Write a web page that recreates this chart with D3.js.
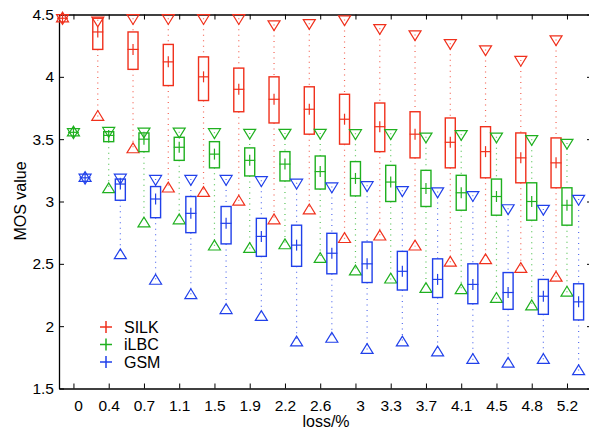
<!doctype html>
<html>
<head>
<style>
  body { margin: 0; background: #fff; }
  text { font-family: "Liberation Sans", Arial, sans-serif; }
</style>
<script src="https://d3js.org/d3.v7.min.js"></script>
</head>
<body>
<svg width="589" height="430"></svg>
<script>
// loss levels (x categories) and y ticks
var lossLabels = ["0", "0.4", "0.7", "1.1", "1.5", "1.9", "2.2", "2.6", "3", "3.3", "3.7", "4.1", "4.5", "4.8", "5.2"];
var yTicks = [1.5, 2, 2.5, 3, 3.5, 4, 4.5];

// SILK
var silkMean = [4.47, 4.36, 4.22, 4.12, 4.00, 3.90, 3.82, 3.74, 3.66, 3.60, 3.54, 3.475, 3.40, 3.35, 3.31];
var silkLo   = [4.47, 4.22, 4.06, 3.93, 3.81, 3.72, 3.63, 3.54, 3.46, 3.40, 3.35, 3.27, 3.19, 3.15, 3.11];
var silkHi   = [4.47, 4.47, 4.36, 4.26, 4.16, 4.07, 4.00, 3.92, 3.86, 3.79, 3.72, 3.67, 3.60, 3.55, 3.51];
var silkMax  = [4.47, 4.45, 4.47, 4.47, 4.47, 4.47, 4.42, 4.43, 4.46, 4.39, 4.34, 4.27, 4.22, 4.135, 4.30];
var silkMin  = [4.47, 3.68, 3.42, 3.105, 3.07, 3.00, 2.85, 2.93, 2.70, 2.72, 2.64, 2.51, 2.53, 2.46, 2.39];

// iLBC
var ilbcMean = [3.555, 3.53, 3.50, 3.435, 3.38, 3.33, 3.30, 3.24, 3.185, 3.156, 3.105, 3.07, 3.04, 3.00, 2.97];
var ilbcLo   = [3.555, 3.48, 3.40, 3.33, 3.27, 3.205, 3.165, 3.10, 3.045, 3.00, 2.96, 2.93, 2.89, 2.85, 2.81];
var ilbcHi   = [3.555, 3.56, 3.55, 3.515, 3.48, 3.43, 3.40, 3.365, 3.32, 3.29, 3.25, 3.21, 3.18, 3.15, 3.11];
var ilbcMax  = [3.555, 3.565, 3.56, 3.56, 3.555, 3.55, 3.55, 3.55, 3.547, 3.547, 3.52, 3.54, 3.52, 3.50, 3.47];
var ilbcMin  = [3.555, 3.10, 2.825, 2.85, 2.64, 2.62, 2.65, 2.54, 2.44, 2.375, 2.30, 2.29, 2.22, 2.16, 2.27];

// GSM
var gsmMean = [3.19, 3.14, 3.02, 2.905, 2.825, 2.72, 2.65, 2.585, 2.50, 2.44, 2.375, 2.335, 2.27, 2.24, 2.195];
var gsmLo   = [3.19, 3.01, 2.87, 2.75, 2.66, 2.56, 2.48, 2.42, 2.35, 2.29, 2.23, 2.18, 2.135, 2.095, 2.05];
var gsmHi   = [3.19, 3.18, 3.12, 3.04, 2.96, 2.865, 2.81, 2.745, 2.675, 2.60, 2.54, 2.50, 2.43, 2.375, 2.34];
var gsmMax  = [3.19, 3.19, 3.18, 3.18, 3.18, 3.17, 3.15, 3.12, 3.13, 3.09, 3.08, 3.05, 2.945, 2.94, 3.02];
var gsmMin  = [3.19, 2.57, 2.365, 2.25, 2.13, 2.075, 1.87, 1.90, 1.81, 1.87, 1.79, 1.73, 1.70, 1.73, 1.64];

var series = [
  {name: "SILK", color: "#f0301c", off: -0.31, mean: silkMean, lo: silkLo, hi: silkHi, max: silkMax, min: silkMin},
  {name: "iLBC", color: "#1fb01f", off: 0,     mean: ilbcMean, lo: ilbcLo, hi: ilbcHi, max: ilbcMax, min: ilbcMin},
  {name: "GSM",  color: "#2040ea", off: 0.33,  mean: gsmMean,  lo: gsmLo,  hi: gsmHi,  max: gsmMax,  min: gsmMin}
];

var svg = d3.select("svg");
var plotL = 59, plotR = 592, plotT = 14.5, plotB = 388.5;

// x is the index of the loss level
var x = d3.scaleLinear().domain([-0.41, 14.71]).range([plotL, plotR]);
var y = d3.scaleLinear().domain([1.5, 4.5]).range([plotB, plotT]);
var idx = d3.range(lossLabels.length);

// axes, ticks pointing in
function styleAxis(g) {
  g.attr("font-size", 15.5).attr("font-family", "Liberation Sans, Arial, sans-serif");
  g.select(".domain").attr("stroke", "#000").attr("stroke-width", 1.3);
  g.selectAll(".tick line").attr("stroke", "#000").attr("stroke-width", 1);
  g.selectAll("text").attr("fill", "#000");
}

svg.append("g").attr("transform", "translate(" + plotL + ",0)")
  .call(d3.axisLeft(y).tickValues(yTicks).tickSize(-5).tickSizeOuter(0).tickPadding(5)
    .tickFormat(function(d) { return String(d); }))
  .call(styleAxis);
svg.append("g").attr("transform", "translate(" + plotR + ",0)")
  .call(d3.axisRight(y).tickValues(yTicks).tickSize(-5).tickSizeOuter(0).tickFormat(""))
  .call(styleAxis);
svg.append("g").attr("transform", "translate(0," + plotB + ")")
  .call(d3.axisBottom(x).tickValues(idx).tickSize(-5).tickSizeOuter(0).tickPadding(11)
    .tickFormat(function(i) { return lossLabels[i]; }))
  .call(styleAxis)
  .selectAll("text")
  .attr("dx", function(i) { return lossLabels[i].indexOf(".") < 0 ? 4.6 : 0; });
svg.append("g").attr("transform", "translate(0," + plotT + ")")
  .call(d3.axisTop(x).tickValues(idx).tickSize(-5).tickSizeOuter(0).tickFormat(""))
  .call(styleAxis);

svg.append("text")
  .attr("transform", "translate(26,201) rotate(-90)")
  .attr("text-anchor", "middle").attr("font-size", 16)
  .text("MOS value");
svg.append("text")
  .attr("x", 326).attr("y", 427)
  .attr("text-anchor", "middle").attr("font-size", 16)
  .text("loss/%");

// triangles centred near their centroid so that two overlapping ones form a star
var bw = 10, tw = 6;
var upTri = "M" + (-tw) + ",3.6L" + tw + ",3.6L0,-6.2Z";
var downTri = "M" + (-tw) + ",-3.6L" + tw + ",-3.6L0,6.2Z";

series.forEach(function(s) {
  var g = svg.append("g").attr("stroke", s.color).attr("fill", "none");
  var cx = function(i) { return x(i + s.off); };

  // dotted whiskers
  g.selectAll(".wtop").data(idx).enter().append("line")
    .attr("x1", cx).attr("x2", cx)
    .attr("y1", function(i) { return y(s.max[i]); })
    .attr("y2", function(i) { return y(s.hi[i]); })
    .attr("stroke-width", 1.2).attr("stroke-dasharray", "1,4.5").attr("opacity", 0.75);
  g.selectAll(".wbot").data(idx).enter().append("line")
    .attr("x1", cx).attr("x2", cx)
    .attr("y1", function(i) { return y(s.lo[i]); })
    .attr("y2", function(i) { return y(s.min[i]); })
    .attr("stroke-width", 1.2).attr("stroke-dasharray", "1,4.5").attr("opacity", 0.75);

  // boxes
  g.selectAll("rect").data(idx).enter().append("rect")
    .attr("x", function(i) { return cx(i) - bw / 2; })
    .attr("y", function(i) { return y(s.hi[i]); })
    .attr("width", bw)
    .attr("height", function(i) { return y(s.lo[i]) - y(s.hi[i]); })
    .attr("stroke-width", 1.4);

  // mean crosses
  g.selectAll(".hc").data(idx).enter().append("line")
    .attr("x1", function(i) { return cx(i) - 5.5; })
    .attr("x2", function(i) { return cx(i) + 5.5; })
    .attr("y1", function(i) { return y(s.mean[i]); })
    .attr("y2", function(i) { return y(s.mean[i]); })
    .attr("stroke-width", 1.2);
  g.selectAll(".vc").data(idx).enter().append("line")
    .attr("x1", cx).attr("x2", cx)
    .attr("y1", function(i) { return y(s.mean[i]) - 5.5; })
    .attr("y2", function(i) { return y(s.mean[i]) + 5.5; })
    .attr("stroke-width", 1.2);

  // max and min markers
  g.selectAll(".mx").data(idx).enter().append("path")
    .attr("d", downTri)
    .attr("transform", function(i) { return "translate(" + cx(i) + "," + y(s.max[i]) + ")"; })
    .attr("stroke-width", 1.2);
  g.selectAll(".mn").data(idx).enter().append("path")
    .attr("d", upTri)
    .attr("transform", function(i) { return "translate(" + cx(i) + "," + y(s.min[i]) + ")"; })
    .attr("stroke-width", 1.2);
});

// legend
var leg = svg.append("g");
series.forEach(function(s, k) {
  var ly = 327 + k * 17.5;
  leg.append("path")
    .attr("d", "M100," + ly + "H112M106," + (ly - 6) + "V" + (ly + 6))
    .attr("stroke", s.color).attr("stroke-width", 1.5);
  leg.append("text")
    .attr("x", 124).attr("y", ly + 5.5)
    .attr("font-size", 16)
    .text(s.name);
});
</script>
</body>
</html>
